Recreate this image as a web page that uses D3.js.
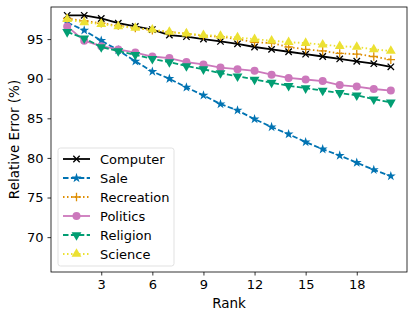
<!DOCTYPE html>
<html>
<head>
<meta charset="utf-8">
<script src="https://cdn.jsdelivr.net/npm/d3@7"></script>
<style>
  body { margin: 0; background: #fff; }
  text { font-family: "DejaVu Sans", sans-serif; }
</style>
</head>
<body>
<div id="chart"></div>
<script>

var ranks = d3.range(1, 21);

var computer   = [98.0, 98.0, 97.6, 97.0, 96.6, 96.2, 95.5, 95.3, 95.0, 94.7, 94.4, 94.0, 93.7, 93.4, 93.1, 92.8, 92.5, 92.2, 91.9, 91.5];
var sale       = [97.1, 96.1, 94.8, 93.6, 92.2, 90.9, 90.0, 88.9, 87.9, 86.8, 86.0, 84.9, 83.9, 83.0, 82.0, 81.1, 80.3, 79.4, 78.5, 77.7];
var recreation = [97.6, 97.3, 97.0, 96.7, 96.4, 96.1, 95.9, 95.7, 95.4, 95.3, 95.0, 94.6, 94.5, 94.0, 93.7, 93.5, 93.2, 93.1, 92.8, 92.4];
var politics   = [96.6, 94.8, 94.1, 93.7, 93.3, 92.8, 92.6, 92.1, 91.8, 91.4, 91.2, 91.0, 90.5, 90.1, 89.9, 89.7, 89.2, 89.0, 88.7, 88.5];
var religion   = [95.9, 95.1, 94.0, 93.5, 93.0, 92.5, 92.1, 91.6, 91.2, 90.7, 90.3, 89.9, 89.5, 89.1, 88.8, 88.5, 88.2, 87.9, 87.4, 87.0];
var science    = [97.5, 97.1, 96.9, 96.6, 96.4, 96.2, 95.9, 95.7, 95.5, 95.4, 95.2, 95.0, 94.8, 94.6, 94.5, 94.3, 94.1, 94.0, 93.7, 93.5];

var xTicks = [3, 6, 9, 12, 15, 18];
var yTicks = [70, 75, 80, 85, 90, 95];

var series = [
  { name: "Computer",   values: computer,   color: "#000000", dash: null,  marker: "x" },
  { name: "Sale",       values: sale,       color: "#0173b2", dash: "5.5,2.4", marker: "star" },
  { name: "Recreation", values: recreation, color: "#de8f05", dash: "1.5,2.5", marker: "plus" },
  { name: "Politics",   values: politics,   color: "#cc78bc", dash: null,  marker: "circle" },
  { name: "Religion",   values: religion,   color: "#029e73", dash: "5.5,2.4", marker: "down" },
  { name: "Science",    values: science,    color: "#ece133", dash: "1.5,2.5", marker: "up" }
];

var W = 415, H = 320;
var margin = { top: 7, right: 8, bottom: 48, left: 51 };
var width = W - margin.left - margin.right,
    height = H - margin.top - margin.bottom;

var xScale = d3.scaleLinear().domain([0.05, 20.95]).range([0, width]);
var yScale = d3.scaleLinear().domain([65.6, 99.05]).range([height, 0]);

var svg = d3.select("#chart").append("svg")
  .attr("width", W)
  .attr("height", H);

var g = svg.append("g")
  .attr("transform", "translate(" + margin.left + "," + margin.top + ")");

// axes
var xAxis = g.append("g")
  .attr("transform", "translate(0," + height + ")")
  .call(d3.axisBottom(xScale).tickValues(xTicks).tickSize(3.5).tickPadding(4));
var yAxis = g.append("g")
  .call(d3.axisLeft(yScale).tickValues(yTicks).tickSize(3.5).tickPadding(4));

[xAxis, yAxis].forEach(function (a) {
  a.select(".domain").remove();
  a.selectAll("line").attr("stroke", "#000").attr("stroke-width", 0.8);
  a.selectAll("text").attr("font-size", "13px").attr("fill", "#000")
    .style("font-family", "DejaVu Sans, sans-serif");
});

g.append("rect")
  .attr("width", width).attr("height", height)
  .attr("fill", "none").attr("stroke", "#000").attr("stroke-width", 0.8);

svg.append("text")
  .attr("x", margin.left + width / 2).attr("y", 308)
  .attr("text-anchor", "middle").attr("font-size", "13.5px")
  .text("Rank");

svg.append("text")
  .attr("transform", "translate(19," + (margin.top + height / 2) + ") rotate(-90)")
  .attr("text-anchor", "middle").attr("font-size", "13.5px")
  .text("Relative Error (%)");

// markers
function drawMarker(sel, type, color) {
  var s = 4;
  if (type === "x") {
    sel.append("path").attr("d", "M-3.2,-3.2L3.2,3.2M-3.2,3.2L3.2,-3.2")
      .attr("stroke", color).attr("stroke-width", 1.3).attr("fill", "none");
  } else if (type === "plus") {
    sel.append("path").attr("d", "M-4.2,0H4.2M0,-4.2V4.2")
      .attr("stroke", color).attr("stroke-width", 1.3).attr("fill", "none");
  } else if (type === "star") {
    sel.append("path").attr("d", d3.symbol().type(d3.symbolStar).size(30)())
      .attr("fill", color);
  } else if (type === "circle") {
    sel.append("circle").attr("r", 4).attr("fill", color);
  } else if (type === "up") {
    sel.append("path").attr("d", d3.symbol().type(d3.symbolTriangle).size(42)())
      .attr("fill", color);
  } else if (type === "down") {
    sel.append("path").attr("d", d3.symbol().type(d3.symbolTriangle).size(42)())
      .attr("transform", "rotate(180)")
      .attr("fill", color);
  }
}

var line = d3.line()
  .x(function (d, i) { return xScale(ranks[i]); })
  .y(function (d) { return yScale(d); });

series.forEach(function (s) {
  var sg = g.append("g");
  sg.append("path")
    .datum(s.values)
    .attr("d", line)
    .attr("fill", "none")
    .attr("stroke", s.color)
    .attr("stroke-width", 1.8)
    .attr("stroke-dasharray", s.dash);
  sg.selectAll(".m")
    .data(s.values)
    .enter().append("g")
    .attr("transform", function (d, i) { return "translate(" + xScale(ranks[i]) + "," + yScale(d) + ")"; })
    .each(function () { drawMarker(d3.select(this), s.marker, s.color); });
});

// legend
var lg = svg.append("g").attr("transform", "translate(58,148)");
lg.append("rect")
  .attr("width", 116).attr("height", 118).attr("rx", 2.5)
  .attr("fill", "#fff").attr("fill-opacity", 0.8)
  .attr("stroke", "#d9d9d9").attr("stroke-width", 0.8);

series.forEach(function (s, i) {
  var y = 11 + i * 19;
  lg.append("line")
    .attr("x1", 5).attr("x2", 32).attr("y1", y).attr("y2", y)
    .attr("stroke", s.color).attr("stroke-width", 1.8)
    .attr("stroke-dasharray", s.dash);
  drawMarker(lg.append("g").attr("transform", "translate(18.5," + y + ")"), s.marker, s.color);
  lg.append("text")
    .attr("x", 42).attr("y", y).attr("dy", "0.35em")
    .attr("font-size", "13px")
    .text(s.name);
});

</script>
</body>
</html>
